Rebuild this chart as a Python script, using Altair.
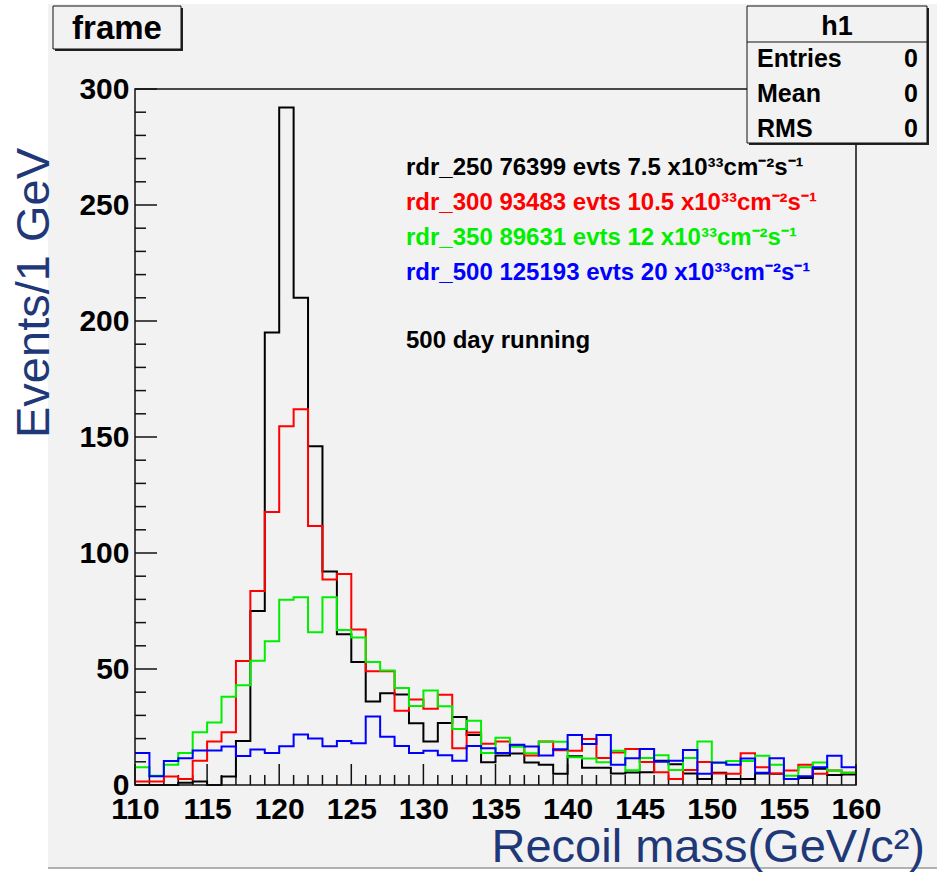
import altair as alt
import pandas as pd

# Recoil-mass histograms, 1 GeV bins from 110 to 160 GeV/c^2
bin_lo = 110
bin_hi = 160
edges = list(range(bin_lo, bin_hi + 1))

rdr_250 = [0, 0, 0, 1, 1.5, 0, 3.7, 19, 75, 195,
           292, 210, 146, 92, 65, 53, 36, 39.5, 39, 26.6,
           18.8, 26.7, 29.3, 21.6, 9.8, 12.7, 13.6, 9.7, 8.7, 4.8,
           12.4, 7.4, 7.4, 5, 5.4, 5.5, 10.5, 8.9, 5, 2.6,
           5.3, 2.6, 2.6, 5, 4.8, 2.6, 3, 7, 4.3, 4.5]
rdr_300 = [1.5, 1.5, 3.7, 2.6, 10.4, 18.8, 22.7, 53.4, 83.6, 117.7,
           154.6, 162, 111.6, 88.6, 91, 67, 49, 49, 32, 36.8,
           32.9, 38.9, 15.8, 22.6, 17.8, 18.7, 16.8, 12.7, 18.7, 15,
           14.8, 19.8, 11.6, 14, 15.5, 9.9, 5.5, 2.6, 6.5, 9.9,
           5, 4.8, 13.7, 7.7, 5, 6.3, 8.7, 4.8, 6.3, 5.3]
rdr_350 = [7.7, 4, 8.7, 13.8, 22.7, 26.9, 38, 43, 53.6, 62,
           79.9, 80.9, 65.8, 80.9, 66.8, 63.6, 53, 49.4, 41.8, 34,
           40.7, 33.9, 24.1, 27.7, 13.8, 20.4, 16.5, 13.7, 18.6, 18.6,
           12, 11.4, 9.8, 14.8, 6.4, 11.6, 12.8, 6.5, 11.6, 18.8,
           9.5, 10.3, 10.3, 12.6, 8.7, 4, 7.7, 9.7, 6.3, 5.3]
rdr_500 = [13.8, 3.8, 10.3, 11.5, 14.9, 14.9, 16.6, 12.5, 15.3, 13.8,
           16.7, 21.8, 20, 16.7, 19, 18, 29.5, 20.8, 16.8, 13.8,
           14.8, 12.8, 10.5, 16.8, 15.8, 13.8, 17.3, 16.6, 12.7, 15.4,
           21.5, 17.7, 21.5, 8.7, 11.5, 15.5, 10, 10.5, 15.1, 4.9,
           9.7, 8.7, 11.4, 5.3, 11.5, 2.6, 3.8, 7.7, 12.6, 7.7]

series_colors = ["#000000", "#ff0000", "#00ee00", "#0000ff"]
legend_lines = [
    "rdr_250 76399 evts 7.5 x10³³cm⁻²s⁻¹",
    "rdr_300 93483 evts 10.5 x10³³cm⁻²s⁻¹",
    "rdr_350 89631 evts 12 x10³³cm⁻²s⁻¹",
    "rdr_500 125193 evts 20 x10³³cm⁻²s⁻¹",
]
note_text = "500 day running"

x_major_ticks = list(range(110, 161, 5))
x_minor_ticks = [v for v in range(110, 161) if v % 5 != 0]
y_major_ticks = [0, 50, 100, 150, 200, 250, 300]
y_minor_ticks = [v for v in range(0, 301, 10) if v % 50 != 0]

stats_labels = ["Entries", "Mean", "RMS"]
stats_values = ["0", "0", "0"]

W, H = 721, 696
FONT = "Liberation Sans"
NAVY = "#1f3878"
PAD = "#f2f2f2"

xscale = alt.Scale(domain=[bin_lo, bin_hi], nice=False, zero=False)
yscale = alt.Scale(domain=[0, 300], nice=False)
xaxis = alt.Axis(values=x_major_ticks, title=None, domain=False, ticks=False, grid=False,
                 labelFontSize=30, labelFontWeight="bold", labelColor="black",
                 labelPadding=9, labelFont=FONT, labelFlush=False, zindex=2)
yaxis = alt.Axis(values=y_major_ticks, title=None, domain=False, ticks=False, grid=False,
                 labelFontSize=30, labelFontWeight="bold", labelColor="black",
                 labelPadding=6, labelFont=FONT, labelFlush=False, zindex=2)

one = pd.DataFrame({"k": [0]})


def box(x1, x2, y1, y2, **kw):
    return alt.Chart(one).mark_rect(**kw).encode(
        x=alt.value(x1), x2=alt.value(x2), y=alt.value(y1), y2=alt.value(y2))


def label(text, x, y, **kw):
    return alt.Chart(one).mark_text(text=text, font=FONT, **kw).encode(
        x=alt.value(x), y=alt.value(y))


def hline(x1, x2, y, color="#000000", width=1.5):
    return alt.Chart(one).mark_rule(color=color, strokeWidth=width).encode(
        x=alt.value(x1), x2=alt.value(x2), y=alt.value(y))


# canvas pad
pad = box(-87, 802, -85, 779, fill=PAD)
pad_edge = hline(-87, 802, 779, color="#9a9a9a", width=1.5)


def hist(vals, color):
    df = pd.DataFrame({"mass": edges, "events": vals + [vals[-1]]})
    return alt.Chart(df).mark_line(interpolate="step-after", color=color, strokeWidth=2).encode(
        x=alt.X("mass:Q", scale=xscale, axis=xaxis),
        y=alt.Y("events:Q", scale=yscale, axis=yaxis),
    )


def yticks(vals, length):
    return alt.Chart(pd.DataFrame({"events": vals})).mark_rule(color="#111", strokeWidth=1.5).encode(
        y=alt.Y("events:Q", scale=yscale, axis=yaxis), x=alt.value(0), x2=alt.value(length))


def xticks(vals, length):
    return alt.Chart(pd.DataFrame({"mass": vals})).mark_rule(color="#111", strokeWidth=1.5).encode(
        x=alt.X("mass:Q", scale=xscale, axis=xaxis), y=alt.value(H), y2=alt.value(H - length))


hists = [hist(v, c) for v, c in zip([rdr_250, rdr_300, rdr_350, rdr_500], series_colors)]

frame = box(0, W, 0, H, fill="transparent", stroke="#111", strokeWidth=1.5)

legend = [label(t, 271, 86 + 35 * i, fontSize=24, fontWeight="bold", align="left",
                baseline="alphabetic", color=c)
          for i, (t, c) in enumerate(zip(legend_lines, series_colors))]
note = label(note_text, 271, 259, fontSize=24, fontWeight="bold", align="left",
             baseline="alphabetic", color="black")

# axis titles
ytitle = label("Events/1 GeV", -86, 349, fontSize=47, angle=270, align="left",
               baseline="alphabetic", color=NAVY)
xtitle = label("Recoil mass(GeV/c²)", 790, 773, fontSize=47, align="right",
               baseline="alphabetic", color=NAVY)

# title box
title_shadow = box(-80, 48, -81, -38, fill="#222")
title_box = box(-82, 46, -83, -40, fill=PAD, stroke="#111", strokeWidth=1)
title_text = label("frame", -18, -50, fontSize=33, fontWeight="bold", align="center",
                   baseline="alphabetic", color="black")

# statistics box
stats_shadow = box(614, 794, -81, 56, fill="#222")
stats_box = box(612, 792, -83, 54, fill=PAD, stroke="#111", strokeWidth=1)
stats_sep = hline(612, 792, -47, color="#111", width=1)
stats_head = label("h1", 702, -54, fontSize=27, fontWeight="bold", align="center",
                   baseline="alphabetic", color="black")
stats_rows = []
for i, (name, val) in enumerate(zip(stats_labels, stats_values)):
    yy = -22 + 35 * i
    stats_rows.append(label(name, 622, yy, fontSize=25, fontWeight="bold", align="left",
                            baseline="alphabetic", color="black"))
    stats_rows.append(label(val, 783, yy, fontSize=25, fontWeight="bold", align="right",
                            baseline="alphabetic", color="black"))

chart = alt.layer(
    pad, pad_edge,
    yticks(y_major_ticks, 22), yticks(y_minor_ticks, 11),
    xticks(x_major_ticks, 21), xticks(x_minor_ticks, 10),
    *hists,
    frame,
    *legend, note, ytitle, xtitle,
    title_shadow, title_box, title_text,
    stats_shadow, stats_box, stats_sep, stats_head, *stats_rows,
).properties(
    width=W, height=H,
    padding={"left": 135, "top": 89, "right": 81, "bottom": 90},
    autosize=alt.AutoSizeParams(type="none"),
).configure(
    background="white", font=FONT,
).configure_view(strokeWidth=0)

chart.save("out.html", embed_options={"renderer": "svg", "actions": False})
